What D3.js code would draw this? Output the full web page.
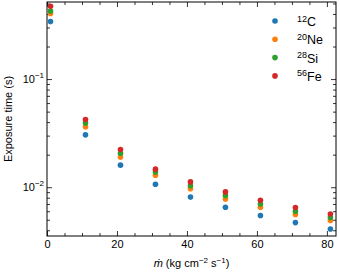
<!DOCTYPE html>
<html>
<head>
<meta charset="utf-8">
<script src="https://cdn.jsdelivr.net/npm/d3@7"></script>
<style>
body { margin: 0; background: #fff; }
svg { font-family: "Liberation Sans", Arial, sans-serif; }
</style>
</head>
<body>
<svg width="340" height="272"></svg>
<script>
const xVals = [1, 11, 21, 31, 41, 51, 61, 71, 81]
const seriesNames = ["12C", "20Ne", "28Si", "56Fe"]
const labelMass = ["12", "20", "28", "56"]
const labelElem = ["C", "Ne", "Si", "Fe"]
const colors = ["#1f77b4", "#ff7f0e", "#2ca02c", "#d62728"]
const tC  = [0.34, 0.0305, 0.016, 0.01066, 0.0081, 0.00653, 0.00547, 0.00471, 0.00411]
const tNe = [0.405, 0.0362, 0.019, 0.0129, 0.0097, 0.0078, 0.00653, 0.00559, 0.00492]
const tSi = [0.426, 0.0392, 0.0206, 0.0138, 0.0103, 0.00838, 0.0070, 0.0060, 0.00524]
const tFe = [0.471, 0.0423, 0.0223, 0.0147, 0.0112, 0.00905, 0.00758, 0.00649, 0.00566]
const allSeries = [tC, tNe, tSi, tFe]
const xTicks = [0, 20, 40, 60, 80]
const yTicks = [0.01, 0.1]

var margin = {top: 2, right: 4, bottom: 36, left: 47},
    width = 340 - margin.left - margin.right,
    height = 272 - margin.top - margin.bottom;

var svg = d3.select("svg")
    .append("g")
    .attr("transform", "translate(" + margin.left + "," + margin.top + ")");

var x = d3.scaleLinear().domain([0, 82.6]).range([0, width]);
var y = d3.scaleLog().domain([0.00354, 0.516]).range([height, 0]);

var xMinor = d3.range(0, 83, 5).filter(v => v % 20 != 0)
var yMinor = []
;[0.001, 0.01, 0.1].forEach(b => { for (let k = 2; k < 10; k++) { let v = b * k; if (v > 0.00354 && v < 0.516) yMinor.push(v) } })

// bottom
svg.append("g").attr("transform", "translate(0," + height + ")")
    .call(d3.axisBottom(x).tickValues(xTicks).tickSize(-5).tickPadding(4).tickFormat(d3.format("d")))
svg.append("g").attr("transform", "translate(0," + height + ")")
    .call(d3.axisBottom(x).tickValues(xMinor).tickSize(-3).tickFormat(""))
// top
svg.append("g").call(d3.axisTop(x).tickValues(xTicks).tickSize(-5).tickFormat(""))
svg.append("g").call(d3.axisTop(x).tickValues(xMinor).tickSize(-3).tickFormat(""))
// left
svg.append("g").call(d3.axisLeft(y).tickValues(yTicks).tickSize(-5).tickFormat(""))
svg.append("g").call(d3.axisLeft(y).tickValues(yMinor).tickSize(-3).tickFormat(""))
// right
svg.append("g").attr("transform", "translate(" + width + ",0)")
    .call(d3.axisRight(y).tickValues(yTicks).tickSize(-5).tickFormat(""))
svg.append("g").attr("transform", "translate(" + width + ",0)")
    .call(d3.axisRight(y).tickValues(yMinor).tickSize(-3).tickFormat(""))

svg.selectAll(".domain").remove()
svg.selectAll(".tick line").attr("stroke", "#000").attr("stroke-width", 0.8)
svg.selectAll(".tick text").attr("fill", "#000").style("font-size", "11px")

// y tick labels as 10^k
yTicks.forEach(v => {
    var t = svg.append("text")
        .attr("x", -3)
        .attr("y", y(v) + 4)
        .attr("text-anchor", "end")
        .style("font-size", "11px")
    t.append("tspan").text("10")
    t.append("tspan").attr("dy", -5).style("font-size", "8px").text("\u2212" + Math.round(-Math.log10(v)))
})

svg.append("rect")
    .attr("width", width).attr("height", height)
    .attr("fill", "none").attr("stroke", "#000").attr("stroke-width", 1)

// points
allSeries.forEach((s, i) => {
    svg.append("g")
        .selectAll("circle")
        .data(s.map((v, j) => [xVals[j], v]))
        .enter()
        .append("circle")
        .attr("cx", d => x(d[0]))
        .attr("cy", d => y(d[1]))
        .attr("r", 2.8)
        .style("fill", colors[i])
})

// legend
var leg = svg.append("g").attr("transform", "translate(" + (width - 61) + ",19)")
seriesNames.forEach((n, i) => {
    var g = leg.append("g").attr("transform", "translate(0," + (i * 18.3) + ")")
    g.append("circle").attr("cx", 0).attr("cy", 0).attr("r", 2.8).style("fill", colors[i])
    var t = g.append("text").attr("x", 22).attr("y", 5).style("font-size", "12.5px")
    t.append("tspan").attr("dy", -4.5).style("font-size", "9px").text(labelMass[i])
    t.append("tspan").attr("dy", 4.5).text(labelElem[i])
})

// axis labels
var xl = svg.append("text")
    .attr("x", width / 2)
    .attr("y", height + 31)
    .attr("text-anchor", "middle")
    .style("font-size", "11px")
xl.append("tspan").style("font-style", "italic").text("\u1E41")
xl.append("tspan").text(" (kg cm")
xl.append("tspan").attr("dy", -4).style("font-size", "8px").text("\u22122")
xl.append("tspan").attr("dy", 4).text(" s")
xl.append("tspan").attr("dy", -4).style("font-size", "8px").text("\u22121")
xl.append("tspan").attr("dy", 4).text(")")

svg.append("text")
    .attr("transform", "translate(" + (-35) + "," + (height / 2) + ") rotate(-90)")
    .attr("text-anchor", "middle")
    .style("font-size", "11px")
    .text("Exposure time (s)")
</script>
</body>
</html>
